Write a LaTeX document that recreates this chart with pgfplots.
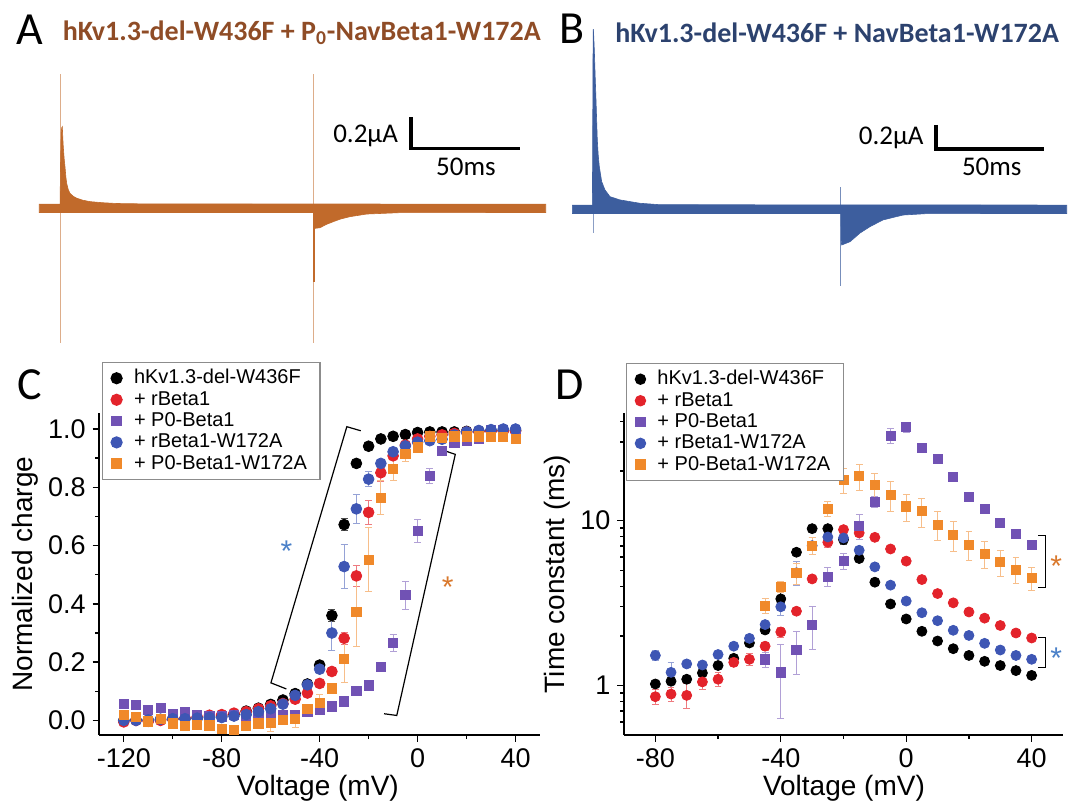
\documentclass[border=0pt]{standalone}
\usepackage{fontspec}
\setmainfont{Liberation Sans}
\newfontfamily\calib{Carlito}
\usepackage{pgfplots}
\pgfplotsset{compat=1.18}

\definecolor{cRed}{RGB}{227,35,43}
\definecolor{cPur}{RGB}{113,82,180}
\definecolor{cBlu}{RGB}{62,86,180}
\definecolor{cOra}{RGB}{240,137,42}
\definecolor{trA}{RGB}{193,106,43}
\definecolor{trB}{RGB}{61,94,158}
\definecolor{ttlA}{RGB}{143,76,38}
\definecolor{ttlB}{RGB}{44,66,110}
\definecolor{astO}{RGB}{217,120,44}
\definecolor{astB}{RGB}{74,128,200}

\pgfplotsset{
  ivplot/.style={
    scale only axis, clip=false,
    axis lines*=left, axis line style={line width=0.8pt,-},
    tick align=outside, major tick length=3.3pt, minor tick length=2pt,
    every tick/.style={line width=0.7pt,black},
    /pgf/number format/assume math mode=true,
    /pgf/number format/1000 sep={},
    tick label style={font=\fontsize{13.5}{15}\selectfont},
    label style={font=\fontsize{14}{16}\selectfont},
    legend cell align=left,
    legend style={font=\fontsize{10}{11}\selectfont, draw=black!45, line width=0.7pt,
      inner xsep=4.5pt, inner ysep=1.5pt, row sep=-1.8pt, column sep=4pt},
  },
  eb/.style={error bars/.cd, y dir=both, y explicit,
    error bar style={line width=0.5pt,color=#1},
    error mark options={rotate=90,mark size=1.7pt,line width=0.5pt,color=#1}},
}

\begin{document}
\begin{tikzpicture}

% ---------- panel A: traces ----------
\begin{axis}[at={(19.65pt,-175pt)}, anchor=south west, scale only axis, hide axis, clip=false,
  width=253.2pt, height=140pt, xmin=0, xmax=232.3, ymin=-0.914, ymax=0.892]
\addplot[trA!55, line width=0.5pt] coordinates {(9.82,0.866) (9.82,-0.871)};
\addplot[trA!55, line width=0.5pt] coordinates {(125.9,0.866) (125.9,-0.871)};
\addplot[fill=trA, draw=trA, line width=0.3pt] coordinates {
 (0,0.027) (9.55,0.027) (9.75,0.3) (10.05,0.49) (10.3,0.52) (10.55,0.526) (10.8,0.45)
 (11.0,0.397) (11.4,0.32) (11.79,0.268) (12.2,0.2) (12.57,0.161) (13.3,0.12) (14.08,0.097)
 (15.5,0.078) (17.16,0.065) (20,0.052) (23.26,0.043) (29,0.036) (35.5,0.031) (50,0.028)
 (232.3,0.027) (232.3,-0.027) (165.5,-0.028) (150.2,-0.037) (142.5,-0.054) (138,-0.07)
 (134.9,-0.086) (131.5,-0.105) (128.8,-0.125) (126.6,-0.129) (126.1,-0.12) (125.9,-0.027)
 (0,-0.027)} --cycle;
\addplot[trA, line width=0.8pt] coordinates {(125.9,0.0) (125.9,-0.474)};
\draw[line width=1.7pt] (axis cs:170.5,0.587) -- (axis cs:170.5,0.387) -- (axis cs:220.5,0.387);
\node[anchor=east, font=\calib\fontsize{13.5}{15}\selectfont, inner sep=0pt] at (axis cs:164.7,0.466) {0.2μA};
\node[font=\calib\fontsize{13.5}{15}\selectfont, inner sep=0pt] at (axis cs:195.7,0.265) {50ms};
\end{axis}

% ---------- panel B: traces ----------
\begin{axis}[at={(286.15pt,-150pt)}, anchor=south west, scale only axis, hide axis, clip=false,
  width=247.2pt, height=142.5pt, xmin=0, xmax=228.9, ymin=-0.756, ymax=1.619]
\addplot[trB!60, line width=0.5pt] coordinates {(9.72,1.5) (9.72,-0.2)};
\addplot[trB!70, line width=0.5pt] coordinates {(124.4,0.183) (124.4,-0.639)};
\addplot[fill=trB, draw=trB, line width=0.3pt] coordinates {
 (0,0.035) (9.3,0.035) (9.45,0.6) (9.55,1.2) (9.72,1.5) (9.9,1.45) (10.19,1.327) (10.6,1.1)
 (10.97,0.911) (11.57,0.578) (12.0,0.45) (12.5,0.355) (13.61,0.23) (15.14,0.161)
 (17.45,0.105) (22.08,0.078) (31.34,0.05) (40.6,0.038) (228.9,0.035)
 (228.9,-0.035) (164.1,-0.036) (153.1,-0.048) (143.8,-0.089) (137.8,-0.145) (133.2,-0.198)
 (128.6,-0.27) (124.7,-0.298) (124.45,-0.25) (124.4,-0.035) (0,-0.035)} --cycle;
\draw[line width=1.7pt] (axis cs:168.4,0.7025) -- (axis cs:168.4,0.5025) -- (axis cs:218.4,0.5025);
\node[anchor=east, font=\calib\fontsize{13.5}{15}\selectfont, inner sep=0pt] at (axis cs:162.8,0.592) {0.2μA};
\node[font=\calib\fontsize{13.5}{15}\selectfont, inner sep=0pt] at (axis cs:194.2,0.355) {50ms};
\end{axis}

% ---------- panel C: normalized charge ----------
\begin{axis}[ivplot, at={(49.65pt,-367.5pt)}, anchor=south west,
  width=220.35pt, height=161pt,
  xmin=-130, xmax=50, ymin=-0.05, ymax=1.055,
  xtick={-120,-80,-40,0,40}, minor xtick={-100,-60,-20,20},
  ytick={0,0.2,0.4,0.6,0.8,1}, minor ytick={0.1,0.3,0.5,0.7,0.9},
  yticklabel style={/pgf/number format/.cd,fixed,fixed zerofill,precision=1},
  xlabel={Voltage (mV)}, ylabel={Normalized charge},
  xlabel style={at={(axis description cs:0.496,-0.164)},anchor=center},
  ylabel style={at={(axis description cs:-0.169,0.5)},anchor=center},
  legend style={at={(0.005,1.159)},anchor=north west},
]
\addplot[only marks, mark=*, mark size=2.7pt, black, eb=black!70] coordinates {
 (-120,0.0) (-115,0.002) (-110,0.0) (-105,0.003) (-100,0.005) (-95,0.006) (-90,0.008)
 (-85,0.012) (-80,0.015) (-75,0.022) (-70,0.032) (-65,0.042) (-60,0.055) (-55,0.07)
 (-50,0.092) (-45,0.125) (-40,0.19) +- (0,0.01) (-35,0.36) +- (0,0.02) (-30,0.672) +- (0,0.02)
 (-25,0.882) (-20,0.941) (-15,0.966) (-10,0.975) (-5,0.981) (0,0.988) (5,0.99) (10,0.99)
 (15,0.99) (20,0.992) (25,0.993) (30,0.994) (35,0.995) (40,0.995)};
\addplot[only marks, mark=*, mark size=2.7pt, cRed, eb=cRed!60] coordinates {
 (-120,-0.005) (-115,0.0) (-110,-0.003) (-105,0.0) (-100,0.005) (-95,0.008) (-90,0.012)
 (-85,0.018) (-80,0.02) (-75,0.025) (-70,0.03) (-65,0.04) (-60,0.05) (-55,0.058)
 (-50,0.073) (-45,0.094) (-40,0.127) (-35,0.168) +- (0,0.015) (-30,0.282) +- (0,0.02)
 (-25,0.496) +- (0,0.035) (-20,0.714) +- (0,0.04) (-15,0.85) +- (0,0.03) (-10,0.908)
 (-5,0.945) (0,0.966) (5,0.975) (10,0.98) (15,0.985) (20,0.99) (25,0.992) (30,0.993)
 (35,0.993) (40,0.993)};
\addplot[only marks, mark=square*, mark size=2.3pt, cPur, eb=cPur!55] coordinates {
 (-120,0.057) (-115,0.054) (-110,0.037) (-105,0.042) (-100,0.023) (-95,0.03) (-90,0.017)
 (-85,0.015) (-80,0.014) (-75,0.018) (-70,0.015) (-65,0.02) (-60,0.022) (-55,0.02)
 (-50,0.02) (-45,0.03) (-40,0.035) (-35,0.048) (-30,0.065) (-25,0.1) (-20,0.12)
 (-15,0.184) (-10,0.266) +- (0,0.03) (-5,0.43) +- (0,0.048) (0,0.651) +- (0,0.04)
 (5,0.838) +- (0,0.025) (10,0.926) +- (0,0.01) (15,0.953) (20,0.96) (25,0.965) (30,0.998)
 (35,0.998) (40,0.99)};
\addplot[only marks, mark=*, mark size=2.7pt, cBlu, eb=cBlu!55] coordinates {
 (-120,0.0) (-115,0.0) (-110,0.002) (-105,0.004) (-100,0.006) (-95,0.006) (-90,0.008)
 (-85,0.01) (-80,0.01) (-75,0.015) (-70,0.02) (-65,0.03) (-60,0.04) (-55,0.056)
 (-50,0.086) (-45,0.122) (-40,0.176) (-35,0.30) +- (0,0.06) (-30,0.528) +- (0,0.075)
 (-25,0.726) +- (0,0.05) (-20,0.828) +- (0,0.025) (-15,0.882) (-10,0.922) (-5,0.942)
 (0,0.955) (5,0.96) (10,0.965) (15,0.98) (20,0.99) (25,0.995) (30,0.998) (35,1.0) (40,1.0)};
\addplot[only marks, mark=square*, mark size=2.3pt, cOra, eb=cOra!55] coordinates {
 (-120,0.02) (-115,0.012) (-110,-0.003) (-105,0.005) (-100,-0.01) (-95,-0.02) (-90,-0.015)
 (-85,-0.017) (-80,-0.028) (-75,-0.033) (-70,-0.02) (-65,-0.01) (-60,-0.008) +- (0,0.03)
 (-55,0.003) (-50,0.005) +- (0,0.03) (-45,0.04) (-40,0.06) +- (0,0.03) (-35,0.11)
 (-30,0.21) +- (0,0.08) (-25,0.372) +- (0,0.12) (-20,0.551) +- (0,0.11) (-15,0.765) +- (0,0.06)
 (-10,0.863) +- (0,0.04) (-5,0.914) +- (0,0.025) (0,0.937) (5,0.975) (10,0.97) (15,0.975)
 (20,0.975) (25,0.975) (30,0.972) (35,0.972) (40,0.965)};
\legend{hKv1.3-del-W436F, + rBeta1, + P0-Beta1, + rBeta1-W172A, + P0-Beta1-W172A}
\draw[line width=0.6pt] (axis cs:-23.2,0.994) -- (axis cs:-28.9,1.008) -- (axis cs:-59.9,0.129) -- (axis cs:-53.6,0.108);
\draw[line width=0.6pt] (axis cs:10.9,0.926) -- (axis cs:15.4,0.913) -- (axis cs:-8.5,0.017) -- (axis cs:-13.7,0.023);
\node[astB, font=\fontsize{15}{15}\selectfont] at (axis cs:-53.6,0.58) {*};
\node[astO, font=\fontsize{15}{15}\selectfont] at (axis cs:12.3,0.457) {*};
\end{axis}

% ---------- panel D: time constant ----------
\begin{axis}[ivplot, at={(312pt,-367.5pt)}, anchor=south west,
  width=219.5pt, height=161pt, ymode=log, log basis y=10,
  xmin=-90, xmax=50, ymin=0.5, ymax=45,
  xtick={-80,-40,0,40}, minor xtick={-60,-20,20},
  ytick={1,10}, yticklabels={1,10},
  minor ytick={0.6,0.7,0.8,0.9,2,3,4,5,6,7,8,9,20,30,40},
  xlabel={Voltage (mV)}, ylabel={Time constant (ms)},
  xlabel style={at={(axis description cs:0.501,-0.164)},anchor=center},
  ylabel style={at={(axis description cs:-0.153,0.5)},anchor=center},
  legend style={at={(0.004,1.156)},anchor=north west},
]
\addplot[only marks, mark=*, mark size=2.5pt, black, eb=black!70] coordinates {
 (-80,1.02) (-75,1.06) (-70,1.09) (-65,1.19) (-60,1.32) (-55,1.46) (-50,1.81) (-45,2.17)
 (-40,3.35) +- (0,0.3) (-35,6.43) (-30,8.94) (-25,8.94) (-20,7.67) +- (0,0.5) (-15,5.89)
 (-10,4.23) (-5,3.12) (0,2.53) (5,2.13) (10,1.86) (15,1.67) (20,1.52) (25,1.40) (30,1.32)
 (35,1.23) (40,1.15)};
\addplot[only marks, mark=*, mark size=2.5pt, cRed, eb=cRed!60] coordinates {
 (-80,0.854) +- (0,0.09) (-75,0.886) +- (0,0.09) (-70,0.87) +- (0,0.15) (-65,1.05) +- (0,0.1)
 (-60,1.09) +- (0,0.1) (-55,1.38) +- (0,0.08) (-50,1.44) +- (0,0.12) (-45,1.73) +- (0,0.1)
 (-40,2.11) +- (0,0.15) (-35,2.82) (-30,4.43) (-25,7.39) +- (0,0.5) (-20,8.82) (-15,8.42)
 (-10,7.92) (-5,6.73) (0,5.68) (5,4.39) (10,3.61) (15,3.17) (20,2.79) (25,2.56) (30,2.31)
 (35,2.08) (40,1.94)};
\addplot[only marks, mark=square*, mark size=2.3pt, cPur, eb=cPur!55] coordinates {
 (-45,1.44) +- (0,0.15) (-40,1.2) +- (0,0.57) (-35,1.64) +- (0,0.47) (-30,2.34) +- (0,0.69)
 (-25,4.56) +- (0,0.6) (-20,5.68) +- (0,0.6) (-15,9.24) +- (0,1.6) (-10,12.98) +- (0,1.0)
 (-5,32.7) +- (0,3.5) (0,37.0) +- (0,2.5) (5,27.6) +- (0,1.5) (10,23.7) +- (0,1.2)
 (15,18.4) +- (0,0.6) (20,14.0) (25,11.8) (30,9.68) (35,8.34) (40,7.16)};
\addplot[only marks, mark=*, mark size=2.5pt, cBlu, eb=cBlu!55] coordinates {
 (-80,1.52) +- (0,0.1) (-75,1.2) +- (0,0.18) (-70,1.35) (-65,1.33) (-60,1.54) (-55,1.73)
 (-50,1.93) (-45,2.34) (-40,3.0) +- (0,0.35) (-35,4.82) +- (0,0.8) (-30,7.05) +- (0,0.8)
 (-25,7.96) (-20,7.85) (-15,6.61) (-10,5.24) (-5,4.06) (0,3.25) (5,2.76) (10,2.47) +- (0,0.12)
 (15,2.16) (20,2.01) (25,1.80) (30,1.64) (35,1.52) (40,1.44)};
\addplot[only marks, mark=square*, mark size=2.3pt, cOra, eb=cOra!55] coordinates {
 (-45,3.05) +- (0,0.3) (-40,3.97) +- (0,0.3) (-35,4.82) +- (0,0.7) (-30,7.05) +- (0,0.8)
 (-25,11.8) +- (0,1.2) (-20,17.7) +- (0,3) (-15,18.6) +- (0,3.3) (-10,16.4) +- (0,3)
 (-5,14.3) +- (0,3) (0,12.2) +- (0,2.3) (5,11.4) +- (0,2.3) (10,9.46) +- (0,1.9)
 (15,8.22) +- (0,1.7) (20,7.16) +- (0,1.4) (25,6.31) +- (0,1.2) (30,5.61) +- (0,1)
 (35,5.05) +- (0,0.9) (40,4.49) +- (0,0.7)};
\legend{hKv1.3-del-W436F, + rBeta1, + P0-Beta1, + rBeta1-W172A, + P0-Beta1-W172A}
\draw[line width=0.6pt] (axis cs:42.1,8.11) -- (axis cs:44.5,8.11) -- (axis cs:44.5,3.91) -- (axis cs:42.1,3.91);
\draw[line width=0.6pt] (axis cs:42.1,1.95) -- (axis cs:44.5,1.95) -- (axis cs:44.5,1.28) -- (axis cs:42.1,1.28);
\node[astO, font=\fontsize{15}{15}\selectfont] at (axis cs:47.8,5.3) {*};
\node[astB, font=\fontsize{15}{15}\selectfont] at (axis cs:47.8,1.47) {*};
\end{axis}

% ---------- titles and panel letters ----------
\node[font=\calib\fontsize{23}{23}\selectfont] at (14.75pt,-15pt) {A};
\node[font=\calib\fontsize{23}{23}\selectfont] at (286.25pt,-14.5pt) {B};
\node[font=\calib\fontsize{23}{23}\selectfont] at (15pt,-192.5pt) {C};
\node[font=\calib\fontsize{23}{23}\selectfont] at (285pt,-192.5pt) {D};
\node[font=\calib\bfseries\fontsize{14}{16}\selectfont, text=ttlA] at (150.9pt,-16.5pt)
  {hKv1.3-del-W436F + P\textsubscript{0}-NavBeta1-W172A};
\node[font=\calib\bfseries\fontsize{14}{16}\selectfont, text=ttlB] at (418.6pt,-16.5pt)
  {hKv1.3-del-W436F + NavBeta1-W172A};

\pgfresetboundingbox
\useasboundingbox (0,0) rectangle (538.5pt,-403.5pt);
\end{tikzpicture}
\end{document}
